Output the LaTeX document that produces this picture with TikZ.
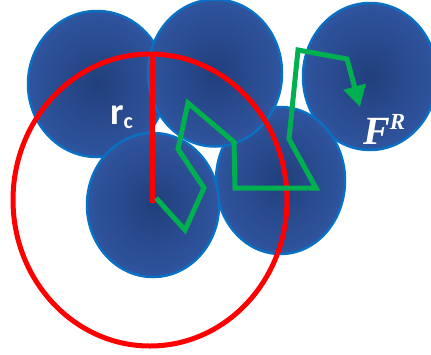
\documentclass[tikz,border=0pt]{standalone}
\usepackage{fontspec}
\usepackage{tikz}
\usetikzlibrary{shapes.geometric, arrows.meta}
\newfontfamily\rcfont{Carlito}
\newfontfamily\frfont{Liberation Serif}
\definecolor{sphCore}{HTML}{213F7C}
\definecolor{sphRim}{HTML}{3B65B9}
\definecolor{sphEdge}{HTML}{0A70C4}
\definecolor{cutRed}{HTML}{FF0000}
\definecolor{walkGreen}{HTML}{00B050}
\pgfdeclareradialshading{sphere}{\pgfpoint{0bp}{0bp}}{%
  color(0bp)=(sphCore); color(45bp)=(sphRim); color(75bp)=(sphRim)}

\begin{document}
\begin{tikzpicture}[
  x=1pt, y=-1pt,
  %% --- particle and cutoff styles ---
  particle/.style={
    ellipse, inner sep=0pt,
    shading=sphere, draw=sphEdge, line width=2.5pt
  },
  cutoff/.style={
    ellipse, inner sep=0pt,
    draw=cutRed, line width=5pt
  },
  %% --- line styles ---
  radius/.style={draw=cutRed, line width=5pt},
  walk/.style={draw=walkGreen, line width=5pt, miter limit=10,
    -{Triangle[length=21pt, width=22pt]}},
  label/.style={inner sep=0pt, text=white}
]
\useasboundingbox (0,0) rectangle (431,354);

%% =========================================================
%% PARTICLES
%% =========================================================
\node (p5) [particle, minimum width=134pt, minimum height=147pt] at (370,76.5) {};
\node (p4) [particle, minimum width=129pt, minimum height=147pt] at (280.5,180.5) {};
\node (p1) [particle, minimum width=138pt, minimum height=146pt] at (97,84) {};
\node (p2) [particle, minimum width=134pt, minimum height=147pt] at (215,73) {};
\node (p3) [particle, minimum width=132pt, minimum height=144pt] at (153,205) {};

%% =========================================================
%% CUTOFF SPHERE AND RADIUS
%% =========================================================
\node (cut) [cutoff, minimum width=274pt, minimum height=292pt] at (150,200) {};
\coordinate (ctr) at (152,203);
\coordinate (top) at (152,53);
\draw[radius] (ctr) -- (top);

\node (rc) [label, anchor=base west, font=\rcfont\bfseries\fontsize{38}{38}\selectfont]
  at (110,124) {r\raisebox{-4pt}{\fontsize{22}{22}\selectfont c}};

%% =========================================================
%% RANDOM WALK
%% =========================================================
\coordinate (w0) at (156,198);
\coordinate (w1) at (360,107);
\draw[walk] (w0) -- (185,230) -- (204,188) -- (178,149) -- (188,103)
  -- (234,142) -- (235,188) -- (316,188) -- (289,139) -- (298,50)
  -- (347,59) -- (w1);

\node (fr) [label, anchor=base west, font=\frfont\bfseries\itshape\fontsize{40}{40}\selectfont]
  at (363,144) {F\raisebox{15pt}{\fontsize{23}{23}\selectfont R}};

\end{tikzpicture}
\end{document}
